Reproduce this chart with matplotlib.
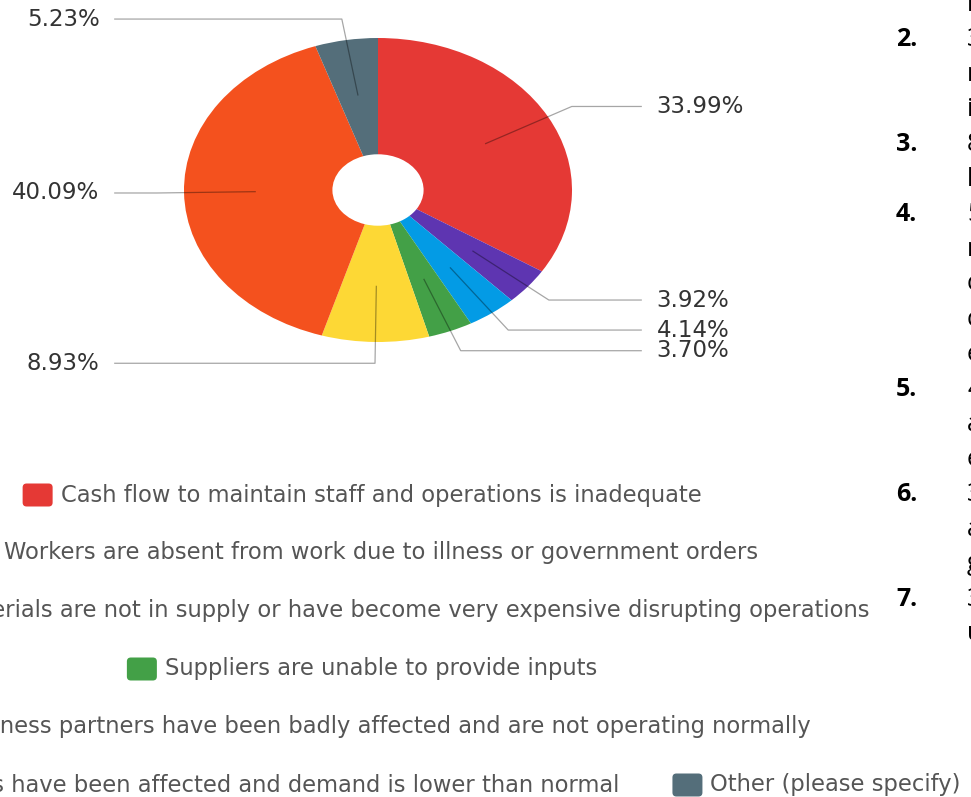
import matplotlib.pyplot as plt
from matplotlib.patches import FancyBboxPatch
import numpy as np

# survey answers, in the order they sit round the doughnut (clockwise from 12 o'clock)
answers = [
    'Cash flow to maintain staff and operations is inadequate',
    'Workers are absent from work due to illness or government orders',
    'Raw materials are not in supply or have become very expensive disrupting operations',
    'Suppliers are unable to provide inputs',
    'Business partners have been badly affected and are not operating normally',
    'Customers/clients have been affected and demand is lower than normal',
    'Other (please specify)',
]
shares = [33.99, 3.92, 4.14, 3.70, 8.93, 40.09, 5.23]
colors = ['#E53935', '#5E35B1', '#039BE5', '#43A047', '#FDD835', '#F4511E', '#546E7A']
legend_rows = [[0], [1], [2], [3], [4], [5, 6]]

# numbered notes on the right edge (cut off by the screenshot)
note_numbers = ['2.', '3.', '4.', '5.', '6.', '7.']
note_first_line = [1, 4, 6, 11, 14, 17]
note_lines = ['lower', '34%', 'reported', 'inadequate', '8.9%', 'lower',
              '5.2%', 'reported', 'cash', 'concerns', 'expenses', '40%',
              'affected', 'economy', '3.9%', 'absent', 'government', '3.7%',
              'unable']

W, H = 971, 797
fig = plt.figure(figsize=(W / 100, H / 100), dpi=100)

# overlay in pixel coordinates for legend and notes
ov = fig.add_axes([0, 0, 1, 1])
ov.set_xlim(0, W)
ov.set_ylim(H, 0)
ov.axis('off')

# doughnut, squashed vertically like the screenshot
cx, cy, rx, ry = 378, 190, 194, 152
ax = fig.add_axes([(cx - rx) / W, 1 - (cy + ry) / H, 2 * rx / W, 2 * ry / H])
ax.pie(shares, colors=colors, startangle=90, counterclock=False, radius=1,
       wedgeprops=dict(width=0.765, linewidth=0))
ax.set_aspect('auto')
ax.set_xlim(-1, 1)
ax.set_ylim(-1, 1)
ax.axis('off')

# percentage labels with leader lines
start = np.cumsum([0] + shares[:-1])
for s0, s in zip(start, shares):
    mid = np.deg2rad((s0 + s / 2) / 100 * 360)
    dx, dy = np.sin(mid), np.cos(mid)
    side = 1 if dx > 0 else -1
    ex, ey = 1.14 * dx, 1.14 * dy
    ax.plot([0.63 * dx, ex, side * 1.36], [0.63 * dy, ey, ey], color='black',
            alpha=0.35, lw=0.9, clip_on=False, solid_capstyle='butt')
    ax.text(side * 1.435, ey, f'{s:.2f}%', ha='left' if side > 0 else 'right',
            va='center', fontsize=16.5, color='#333333')

# legend rows, each centred under the chart
renderer = fig.canvas.get_renderer()
box_w, box_h, gap, item_gap = 30, 23, 8, 53
for k, row in enumerate(legend_rows):
    y = 495 + 58 * k
    texts = [ov.text(0, y, answers[i], fontsize=16.3, color='#555555',
                     va='center', ha='left') for i in row]
    widths = [t.get_window_extent(renderer).width for t in texts]
    total = sum(box_w + gap + w for w in widths) + item_gap * (len(row) - 1)
    x = 362 - total / 2
    for i, t, w in zip(row, texts, widths):
        ov.add_patch(FancyBboxPatch((x, y - box_h / 2), box_w, box_h,
                                    boxstyle='round,pad=0,rounding_size=4',
                                    color=colors[i], lw=0))
        t.set_x(x + box_w + gap)
        x += box_w + gap + w + item_gap

# cut-off numbered list at the right
for num, line in zip(note_numbers, note_first_line):
    ov.text(896, 4 + 35 * line, num, fontsize=18, fontfamily='Open Sans',
            fontweight='bold', color='black', va='center', ha='left')
for j, word in enumerate(note_lines):
    ov.text(967, 4 + 35 * j, word, fontsize=18, fontfamily='Open Sans',
            color='black', va='center', ha='left')

fig.savefig('out.png', dpi=100)
